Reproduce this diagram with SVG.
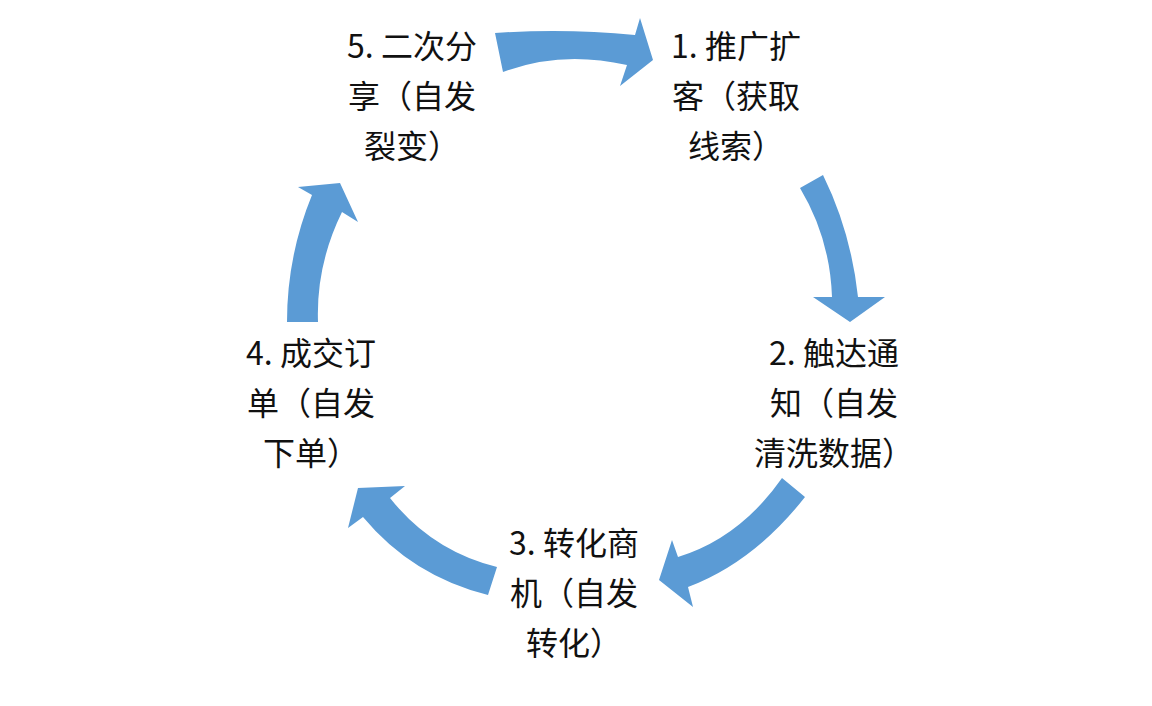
<svg xmlns="http://www.w3.org/2000/svg" width="1152" height="706" viewBox="0 0 1152 706">
<style>
.arrow{fill:#5B9BD5;stroke:none}
.lbl{font-family:"Noto Sans CJK SC","Microsoft YaHei",sans-serif;font-size:32px;fill:#111;text-anchor:middle}
</style>
<rect width="1152" height="706" fill="#fff"/>
<g id="connectors">
<path class="arrow" d="M495,33 Q565,28 635,35 L640,18 L653,60 L620,86 L627,65 Q561,50 503,72 Z"/>
<path class="arrow" d="M800,188 L823,175 Q851,232 858,297 L885,297 L850,322 L813,297 L832,297 Q830,238 800,188 Z"/>
<path class="arrow" d="M782,478 L805,497 Q754,562 688,587 L693,607 L659,580 L672,540 L678,557 Q740,538 782,478 Z"/>
<path class="arrow" d="M497,567 L488,595 Q412,576 363,517 L348,528 L358,488 L405,486 L390,498 Q432,551 497,567 Z"/>
<path class="arrow" d="M287,322 L318,322 Q316,265 342,212 L358,222 L340,183 L298,187 L312,195 Q287,256 287,322 Z"/>
</g>
<g id="node1">
<text class="lbl" x="736" y="58">1. 推广扩</text>
<text class="lbl" x="736" y="108">客（获取</text>
<text class="lbl" x="736" y="158">线索）</text>
</g>
<g id="node2">
<text class="lbl" x="834" y="365">2. 触达通</text>
<text class="lbl" x="834" y="415">知（自发</text>
<text class="lbl" x="834" y="465">清洗数据）</text>
</g>
<g id="node3">
<text class="lbl" x="574" y="555">3. 转化商</text>
<text class="lbl" x="574" y="605">机（自发</text>
<text class="lbl" x="574" y="655">转化）</text>
</g>
<g id="node4">
<text class="lbl" x="311" y="365">4. 成交订</text>
<text class="lbl" x="311" y="415">单（自发</text>
<text class="lbl" x="311" y="465">下单）</text>
</g>
<g id="node5">
<text class="lbl" x="412" y="58">5. 二次分</text>
<text class="lbl" x="412" y="108">享（自发</text>
<text class="lbl" x="412" y="158">裂变）</text>
</g>
</svg>
